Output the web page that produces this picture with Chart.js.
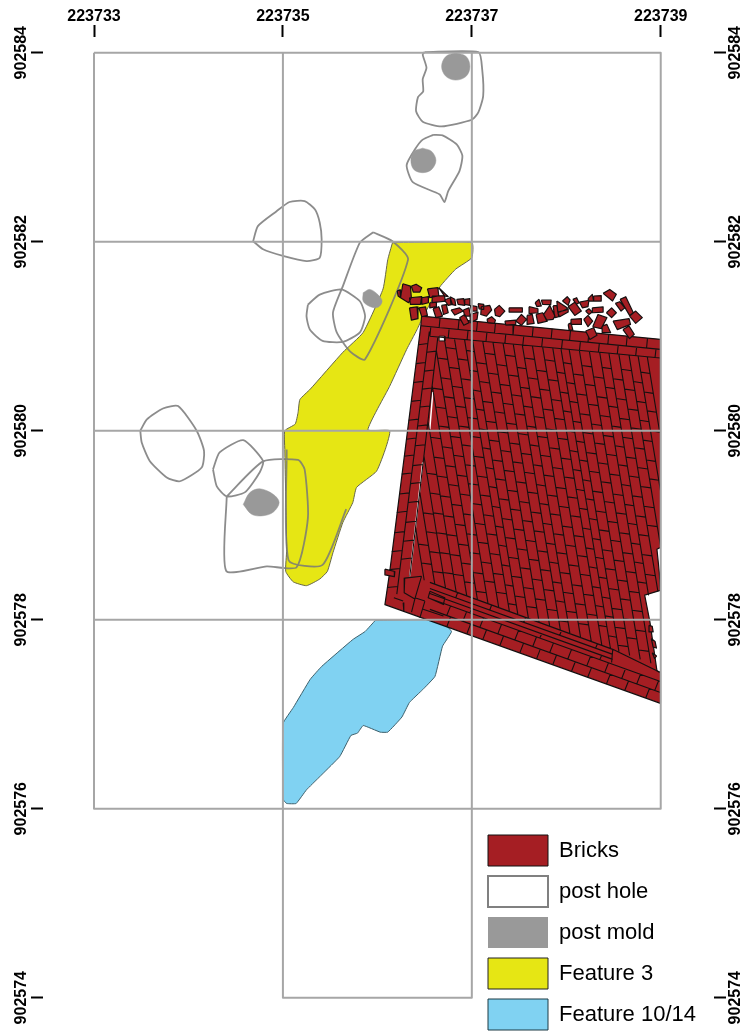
<!DOCTYPE html>
<html>
<head>
<meta charset="utf-8">
<title>Excavation plan</title>
<script src="https://cdn.jsdelivr.net/npm/chart.js@4/dist/chart.umd.min.js"></script>
<style>
  html, body { margin: 0; padding: 0; background: #fff; }
  #wrap { width: 744px; height: 1031px; }
</style>
</head>
<body>
<div id="wrap"><canvas id="plan"></canvas></div>
<script>
// all shapes are in metres east / north of this grid origin
const ORIGIN_E = 223733
const ORIGIN_N = 902574

const eastTicks = [223733, 223735, 223737, 223739]
const northTicks = [902574, 902576, 902578, 902580, 902582, 902584]

const legendNames = ['Bricks', 'post hole', 'post mold', 'Feature 3', 'Feature 10/14']
const legendFills = ['#a51e23', '#ffffff', '#999999', '#e6e614', '#80d2f2']
const legendEdges = ['#111111', '#808080', '#999999', '#222222', '#1d3a44']
const legendWidths = [1, 2, 0, 1, 1]

const gridLines = [
  [0, 10, 6, 10, 6, 2, 0, 2, 0, 10],
  [0, 8, 6, 8],
  [0, 6, 6, 6],
  [0, 4, 6, 4],
  [2, 10, 2, 0, 4, 0, 4, 10]
]

const feature3 = [
  3.16, 7.99, 4.00, 7.99, 4.00, 7.83, 3.83, 7.71, 3.66, 7.52, 3.48, 7.20, 3.42, 7.07, 3.31, 6.86,
  3.13, 6.47, 2.90, 6.01, 3.13, 6.00, 3.09, 5.82, 2.99, 5.57, 2.78, 5.40, 2.74, 5.24, 2.635, 5.03,
  2.53, 4.71, 2.47, 4.51, 2.39, 4.43, 2.25, 4.36, 2.11, 4.40, 2.03, 4.51, 2.04, 4.74, 2.02, 5.80,
  2.02, 6.00, 2.13, 6.07, 2.16, 6.19, 2.18, 6.33, 2.29, 6.44, 2.635, 6.83, 2.85, 7.04, 3.06, 7.50,
  3.11, 7.81
]

const feature1014 = [
  2.98, 3.995, 3.66, 3.995, 3.785, 3.875, 3.69, 3.72, 3.61, 3.40, 3.48, 3.26, 3.34, 3.125, 3.26, 2.97, 3.11, 2.81,
  3.03, 2.81, 2.85, 2.88, 2.79, 2.80, 2.72, 2.775, 2.60, 2.55, 2.25, 2.20, 2.14, 2.055, 2.04, 2.055,
  2.00, 2.10, 2.00, 2.90, 2.11, 3.07, 2.29, 3.37, 2.41, 3.505, 2.74, 3.79, 2.87, 3.875
]

const postHoles = [
  [3.50, 10.006, 4.07, 10.006, 4.11, 9.82, 4.12, 9.54, 4.07, 9.37, 4.00, 9.29, 3.68, 9.22, 3.48, 9.27, 3.41, 9.38, 3.43, 9.53, 3.485, 9.59, 3.48, 9.72, 3.52, 9.84, 3.48, 9.98],
  [3.59, 9.13, 3.69, 9.125, 3.84, 9.03, 3.90, 8.91, 3.87, 8.75, 3.75, 8.535, 3.71, 8.42, 3.66, 8.50, 3.375, 8.63, 3.31, 8.81, 3.40, 8.98, 3.48, 9.08],
  [1.685, 8.005, 1.735, 8.165, 1.93, 8.32, 2.07, 8.42, 2.23, 8.43, 2.34, 8.34, 2.39, 8.20, 2.41, 8.025, 2.39, 7.83, 2.25, 7.795, 2.00, 7.85, 1.79, 7.92],
  [2.955, 8.10, 3.16, 8.005, 3.325, 7.81, 2.87, 6.755, 2.71, 6.84, 2.57, 7.04, 2.53, 7.25, 2.635, 7.53, 2.815, 7.99],
  [2.265, 7.335, 2.39, 7.44, 2.62, 7.495, 2.815, 7.37, 2.87, 7.21, 2.815, 7.04, 2.635, 6.94, 2.42, 6.95, 2.285, 7.07, 2.25, 7.21],
  [0.49, 6.00, 0.56, 6.12, 0.73, 6.235, 0.89, 6.26, 1.087, 6.00, 1.165, 5.785, 1.14, 5.61, 0.91, 5.465, 0.77, 5.505, 0.59, 5.68, 0.505, 5.875],
  [1.26, 5.59, 1.33, 5.77, 1.58, 5.90, 1.79, 5.68, 1.755, 5.56, 1.60, 5.35, 1.405, 5.305, 1.30, 5.41],
  [1.405, 5.305, 1.40, 4.515, 1.83, 4.565, 2.145, 4.555, 2.265, 5.08, 2.23, 5.59, 2.16, 5.69, 1.79, 5.675]
]
const postHoleOpen = [2.04, 5.80, 2.06, 4.63, 2.42, 4.58, 2.67, 5.17]

const postMolds = [
  [3.83, 10.0, 3.94, 9.96, 3.98, 9.855, 3.94, 9.75, 3.83, 9.71, 3.725, 9.75, 3.68, 9.855, 3.725, 9.96],
  [3.48, 8.99, 3.575, 8.955, 3.62, 8.86, 3.575, 8.765, 3.48, 8.73, 3.385, 8.765, 3.355, 8.86, 3.385, 8.955],
  [2.85, 7.46, 2.92, 7.495, 3.005, 7.44, 3.05, 7.37, 3.005, 7.305, 2.92, 7.315, 2.85, 7.37],
  [1.58, 5.22, 1.65, 5.345, 1.755, 5.385, 1.90, 5.325, 1.96, 5.24, 1.90, 5.14, 1.79, 5.10, 1.67, 5.115]
]

const brickBody = [
  3.468, 7.213, 5.997, 6.967, 5.997, 4.765, 5.96, 4.745, 5.985, 4.50, 5.995, 4.31, 5.83, 4.26, 5.885, 3.98,
  5.96, 3.46, 5.997, 3.44, 5.997, 3.115, 3.08, 4.16, 3.13, 4.50, 3.46, 7.11
]
const brickGaps = [
  [3.654, 7.0, 3.714, 7.0, 3.714, 6.95, 3.66, 6.95]
]
const brickCracks = [
  [3.587, 6.41, 3.555, 6.015],
  [3.48, 5.665, 3.44, 5.305, 3.397, 4.925, 3.344, 4.46]
]

const rubble = [
  [3.21, 7.48, 3.24, 7.49, 3.245, 7.407, 3.22, 7.425],
  [3.27, 7.555, 3.35, 7.53, 3.36, 7.407, 3.33, 7.354, 3.245, 7.407],
  [3.36, 7.53, 3.41, 7.55, 3.47, 7.513, 3.45, 7.467, 3.38, 7.467],
  [3.34, 7.407, 3.47, 7.418, 3.456, 7.337, 3.35, 7.337],
  [3.47, 7.407, 3.54, 7.418, 3.54, 7.354, 3.47, 7.337],
  [3.53, 7.50, 3.64, 7.513, 3.65, 7.43, 3.555, 7.407],
  [3.58, 7.425, 3.71, 7.43, 3.72, 7.372, 3.58, 7.354],
  [3.65, 7.513, 3.75, 7.418, 3.71, 7.425],
  [3.555, 7.354, 3.625, 7.36, 3.625, 7.312, 3.555, 7.30],
  [3.34, 7.30, 3.42, 7.31, 3.43, 7.185, 3.36, 7.17],
  [3.44, 7.30, 3.51, 7.31, 3.53, 7.22, 3.47, 7.206],
  [3.59, 7.29, 3.65, 7.312, 3.69, 7.213, 3.62, 7.196],
  [3.68, 7.326, 3.73, 7.333, 3.75, 7.248, 3.70, 7.23],
  [3.71, 7.383, 3.77, 7.407, 3.795, 7.337, 3.75, 7.326],
  [3.77, 7.418, 3.82, 7.39, 3.83, 7.326, 3.78, 7.337],
  [3.78, 7.277, 3.87, 7.30, 3.91, 7.266, 3.82, 7.224],
  [3.84, 7.39, 3.915, 7.397, 3.925, 7.326, 3.855, 7.337],
  [3.925, 7.39, 3.98, 7.397, 3.98, 7.326, 3.925, 7.337],
  [3.91, 7.277, 3.97, 7.30, 3.985, 7.213, 3.925, 7.213],
  [3.87, 7.196, 3.925, 7.23, 3.97, 7.143, 3.915, 7.115],
  [3.985, 7.326, 4.055, 7.312, 4.055, 7.266, 3.996, 7.266],
  [4.066, 7.344, 4.126, 7.337, 4.126, 7.284, 4.077, 7.29],
  [3.98, 7.23, 4.066, 7.255, 4.055, 7.178, 3.985, 7.143],
  [4.10, 7.312, 4.19, 7.326, 4.21, 7.277, 4.155, 7.213, 4.095, 7.23],
  [4.24, 7.284, 4.29, 7.326, 4.35, 7.266, 4.296, 7.206, 4.25, 7.22],
  [4.395, 7.30, 4.535, 7.30, 4.535, 7.255, 4.395, 7.255],
  [4.16, 7.178, 4.21, 7.206, 4.25, 7.17, 4.24, 7.136, 4.17, 7.143],
  [4.35, 7.16, 4.465, 7.17, 4.465, 7.125, 4.36, 7.118],
  [4.465, 7.16, 4.525, 7.23, 4.58, 7.178, 4.525, 7.115],
  [4.585, 7.22, 4.64, 7.23, 4.66, 7.136, 4.585, 7.125],
  [4.606, 7.312, 4.70, 7.29, 4.70, 7.248, 4.61, 7.24],
  [4.68, 7.23, 4.75, 7.248, 4.80, 7.16, 4.70, 7.136],
  [4.67, 7.354, 4.71, 7.39, 4.736, 7.32, 4.69, 7.312],
  [4.736, 7.383, 4.84, 7.383, 4.835, 7.333, 4.75, 7.337],
  [4.76, 7.23, 4.825, 7.326, 4.88, 7.213, 4.86, 7.178, 4.79, 7.17],
  [4.86, 7.32, 4.90, 7.326, 4.92, 7.206, 4.88, 7.196],
  [4.90, 7.372, 5.01, 7.30, 5.00, 7.277, 4.91, 7.255],
  [4.91, 7.248, 5.02, 7.29, 5.02, 7.255, 4.93, 7.206],
  [4.96, 7.372, 5.01, 7.418, 5.04, 7.383, 5.02, 7.326],
  [5.02, 7.312, 5.09, 7.36, 5.16, 7.266, 5.09, 7.22],
  [5.07, 7.39, 5.11, 7.407, 5.135, 7.354, 5.11, 7.337],
  [5.14, 7.36, 5.24, 7.38, 5.23, 7.312, 5.17, 7.30],
  [5.205, 7.266, 5.24, 7.29, 5.276, 7.255, 5.24, 7.23],
  [5.23, 7.397, 5.276, 7.443, 5.29, 7.372, 5.24, 7.372],
  [5.29, 7.425, 5.37, 7.43, 5.37, 7.372, 5.29, 7.372],
  [5.276, 7.30, 5.39, 7.31, 5.39, 7.255, 5.28, 7.248],
  [5.39, 7.453, 5.46, 7.495, 5.53, 7.443, 5.49, 7.372],
  [5.05, 7.178, 5.16, 7.185, 5.16, 7.125, 5.05, 7.125],
  [5.02, 7.125, 5.05, 7.143, 5.07, 7.065, 5.03, 7.065],
  [5.185, 7.178, 5.23, 7.22, 5.28, 7.16, 5.23, 7.10],
  [5.28, 7.10, 5.336, 7.23, 5.43, 7.196, 5.37, 7.08],
  [5.425, 7.248, 5.48, 7.30, 5.53, 7.248, 5.48, 7.196],
  [5.52, 7.347, 5.565, 7.365, 5.62, 7.30, 5.58, 7.266],
  [5.57, 7.39, 5.63, 7.418, 5.71, 7.248, 5.67, 7.22],
  [5.495, 7.16, 5.665, 7.185, 5.68, 7.125, 5.54, 7.07],
  [5.67, 7.213, 5.735, 7.266, 5.805, 7.196, 5.735, 7.136],
  [5.60, 7.07, 5.665, 7.107, 5.72, 7.02, 5.67, 6.974],
  [5.38, 7.107, 5.43, 7.125, 5.47, 7.037, 5.38, 7.037],
  [5.205, 7.055, 5.29, 7.09, 5.325, 7.01, 5.25, 6.966],
  [3.08, 4.535, 3.185, 4.51, 3.18, 4.455, 3.08, 4.475],
  [5.876, 3.94, 5.91, 3.93, 5.92, 3.87, 5.885, 3.87],
  [5.90, 3.80, 5.94, 3.77, 5.955, 3.70, 5.92, 3.71],
  [5.91, 3.65, 5.955, 3.615, 5.935, 3.59]
]

// the long brick columns of the floor, top and bottom end of each dividing line
const railTopE = [3.404, 3.448, 3.492, 3.536, 3.58, 3.624, 3.708, 3.816, 3.923, 4.008, 4.116, 4.224, 4.331, 4.439, 4.535, 4.642, 4.75, 4.857, 4.944, 5.031, 5.139, 5.245, 5.354, 5.452, 5.557, 5.665, 5.761, 5.858]
const railTopN = [4.977, 5.355, 5.74, 6.10, 6.48, 6.853, 6.983, 6.973, 6.963, 6.955, 6.945, 6.934, 6.924, 6.913, 6.904, 6.894, 6.884, 6.873, 6.866, 6.857, 6.847, 6.837, 6.826, 6.817, 6.807, 6.797, 6.787, 6.778]
const railBotE = [3.496, 3.608, 3.722, 3.835, 3.947, 4.06, 4.172, 4.285, 4.398, 4.488, 4.60, 4.713, 4.825, 4.938, 5.039, 5.152, 5.265, 5.377, 5.468, 5.558, 5.671, 5.783, 5.896, 5.871, 5.97, 5.997, 5.997, 5.99]
const railBotN = [4.417, 4.376, 4.333, 4.29, 4.25, 4.21, 4.168, 4.128, 4.087, 4.054, 4.012, 3.971, 3.929, 3.889, 3.852, 3.811, 3.769, 3.728, 3.695, 3.662, 3.621, 3.58, 3.539, 4.257, 4.30, 4.786, 5.368, 5.98]

// northing of every cross joint, one list per column
const columnJoints = [
  [4.80, 4.60],
  [5.13, 4.93, 4.72, 4.51],
  [5.55, 5.34, 5.13, 4.92, 4.71, 4.50],
  [5.93, 5.72, 5.52, 5.31, 5.10, 4.90, 4.69, 4.48],
  [6.66, 6.45, 6.25, 6.05, 5.83, 5.63, 5.43, 5.22, 5.01, 4.80, 4.60, 4.40],
  [6.77, 6.56, 6.36, 6.15, 5.94, 5.74, 5.53, 5.33, 5.12, 4.91, 4.71, 4.50, 4.30],
  [6.88, 6.67, 6.47, 6.26, 6.05, 5.85, 5.64, 5.44, 5.23, 5.02, 4.82, 4.61, 4.41],
  [6.76, 6.55, 6.35, 6.14, 5.94, 5.73, 5.52, 5.32, 5.11, 4.91, 4.70, 4.49, 4.29],
  [6.85, 6.64, 6.43, 6.23, 6.02, 5.82, 5.61, 5.41, 5.20, 4.99, 4.79, 4.58, 4.37, 4.17],
  [6.72, 6.52, 6.31, 6.10, 5.90, 5.69, 5.49, 5.28, 5.07, 4.87, 4.66, 4.46, 4.25],
  [6.82, 6.61, 6.41, 6.20, 5.99, 5.79, 5.58, 5.37, 5.17, 4.96, 4.75, 4.55, 4.34, 4.14],
  [6.70, 6.49, 6.29, 6.08, 5.87, 5.67, 5.46, 5.25, 5.05, 4.84, 4.64, 4.43, 4.22],
  [6.80, 6.59, 6.38, 6.18, 5.97, 5.76, 5.56, 5.35, 5.14, 4.94, 4.73, 4.53, 4.32, 4.11],
  [6.67, 6.46, 6.26, 6.05, 5.85, 5.64, 5.43, 5.23, 5.02, 4.81, 4.61, 4.40, 4.20, 3.99],
  [6.77, 6.56, 6.36, 6.15, 5.94, 5.74, 5.53, 5.32, 5.12, 4.91, 4.71, 4.50, 4.29, 4.09],
  [6.64, 6.44, 6.23, 6.02, 5.82, 5.61, 5.40, 5.20, 4.99, 4.79, 4.58, 4.37, 4.17, 3.96],
  [6.75, 6.54, 6.33, 6.13, 5.92, 5.71, 5.51, 5.30, 5.10, 4.89, 4.68, 4.48, 4.27, 4.06],
  [6.62, 6.41, 6.21, 6.00, 5.79, 5.59, 5.38, 5.18, 4.97, 4.76, 4.56, 4.35, 4.15, 3.94],
  [6.72, 6.51, 6.31, 6.10, 5.89, 5.69, 5.48, 5.28, 5.07, 4.86, 4.66, 4.45, 4.24, 4.04, 3.83],
  [6.60, 6.39, 6.18, 5.98, 5.77, 5.57, 5.36, 5.15, 4.95, 4.74, 4.54, 4.33, 4.12, 3.92, 3.73],
  [6.69, 6.49, 6.28, 6.07, 5.87, 5.66, 5.46, 5.25, 5.04, 4.84, 4.63, 4.42, 4.22, 4.01, 3.81],
  [6.57, 6.36, 6.16, 5.95, 5.75, 5.54, 5.33, 5.13, 4.92, 4.71, 4.51, 4.30, 4.10, 3.89, 3.68],
  [6.67, 6.46, 6.26, 6.05, 5.84, 5.64, 5.43, 5.22, 5.02, 4.81, 4.61, 4.40, 4.19, 3.99, 3.78, 3.60],
  [6.55, 6.34, 6.13, 5.93, 5.72, 5.52, 5.31, 5.10, 4.90, 4.69, 4.48, 4.28],
  [6.65, 6.44, 6.23, 6.03, 5.82, 5.61, 5.41, 5.20, 5.00, 4.79, 4.58, 4.38],
  [6.52, 6.31, 6.11, 5.90, 5.69, 5.49, 5.28, 5.08, 4.87],
  [6.62, 6.41, 6.21, 6.00, 5.79, 5.59, 5.38]
]

// west wall: two columns leaning the other way
const westOuter = [3.46, 7.11, 3.08, 4.16]
const westMid = [3.55, 7.05, 3.206, 4.27]
const westInner = [3.64, 6.99, 3.344, 4.46]
const westJointsOuter = [6.91, 6.71, 6.51, 6.31, 6.11, 5.91, 5.73, 5.54, 5.33, 5.135, 4.92, 4.72, 4.53, 4.34]
const westJointsInner = [7.02, 6.83, 6.63, 6.44, 6.25, 6.05, 5.84, 5.63, 5.44, 5.24, 5.03, 4.83, 4.64]

// north wall: two courses
const northTop = [3.468, 7.213, 5.997, 6.967]
const northMid = [3.46, 7.11, 5.997, 6.86]
const northLow = [3.556, 7.0, 5.997, 6.77]
const northJointsUpper = [3.654, 3.855, 4.05, 4.24, 4.436, 4.64, 4.84, 5.035, 5.23, 5.44, 5.635, 5.85]
const northJointsLower = [3.556, 3.75, 3.95, 4.15, 4.35, 4.54, 4.74, 4.95, 5.14, 5.34, 5.54, 5.735, 5.94]

// south wall: courses from the outside in
const southEdge = [3.08, 4.16, 5.997, 3.115]
const southA = [3.556, 4.109, 5.997, 3.23]
const southB = [3.556, 4.225, 5.997, 3.347]
const southC = [3.556, 4.278, 5.492, 3.58]
const southD = [3.556, 4.331, 5.492, 3.633]
const southE = [3.556, 4.395, 5.492, 3.686]
const southEnd = [5.492, 3.686, 5.997, 3.44]
const southCap = [5.492, 3.686, 5.48, 3.547]
const southJointsOuter = [3.735, 3.947, 4.116, 4.296, 4.508, 4.685, 4.857, 5.055, 5.227, 5.425, 5.619, 5.841]
const southJointsSecond = [3.735, 3.905, 4.085, 4.275, 4.455, 4.645, 4.825, 5.016, 5.217, 5.407, 5.587, 5.746, 5.937]
const southJointsThin = [3.98, 4.72, 5.355]
const southJointsTop = [3.83, 4.19, 4.55, 4.93, 5.31]

// odd broken bricks where the west and south walls meet
const cornerLines = [
  [3.29, 4.44, 3.468, 4.46],
  [3.468, 4.46, 3.397, 4.22],
  [3.29, 4.44, 3.284, 4.285, 3.397, 4.22],
  [3.273, 4.18, 3.28, 4.09],
  [3.175, 4.233, 3.273, 4.197],
  [3.397, 4.22, 3.362, 4.08],
  [3.397, 4.233, 3.503, 4.197],
  [3.503, 4.197, 3.45, 4.02],
  [3.556, 4.30, 3.714, 4.233, 3.70, 4.16, 3.538, 4.233, 3.556, 4.30],
  [3.484, 4.11, 3.70, 4.04]
]

const pt = (e, n) => ({ x: ORIGIN_E + e, y: ORIGIN_N + n })
const gap = { x: null, y: null }

function openPath(flat) {
  const out = []
  for (let i = 0; i < flat.length; i += 2) out.push(pt(flat[i], flat[i + 1]))
  return out
}
function closedPath(flat) {
  return openPath(flat.concat([flat[0], flat[1]]))
}
function joinPaths(paths) {
  const out = []
  paths.forEach(p => { out.push(...p, gap) })
  return out
}

function atNorth(r, n) {
  const t = (n - r[1]) / (r[3] - r[1])
  return t < 0 || t > 1 ? null : [r[0] + (r[2] - r[0]) * t, n]
}
function atEast(r, e) {
  const t = (e - r[0]) / (r[2] - r[0])
  return [e, r[1] + (r[3] - r[1]) * t]
}
// cross joints between two lines, the list gives where each one sits
function northJoints(left, right, list, skew) {
  const out = []
  list.forEach(n => {
    const a = atNorth(left, n), b = atNorth(right, n - skew)
    if (a && b) out.push([...a, ...b])
  })
  return out
}
function eastJoints(upper, lower, list, skew) {
  return list.map(e => [...atEast(upper, e + skew), ...atEast(lower, e)])
}

const floorRails = railTopE.map((e, i) => [e, railTopN[i], railBotE[i], railBotN[i]])

const brickLines = [
  ...floorRails,
  ...columnJoints.flatMap((list, i) => northJoints(floorRails[i], floorRails[i + 1], list, 0.015)),
  westMid, westInner,
  ...northJoints(westOuter, westMid, westJointsOuter, -0.012),
  ...northJoints(westMid, westInner, westJointsInner, -0.012),
  northMid, northLow,
  ...eastJoints(northTop, northMid, northJointsUpper, 0.01),
  ...eastJoints(northMid, northLow, northJointsLower, 0.01),
  southA, southB, southC, southD, southE, southEnd, southCap,
  ...eastJoints(southA, southEdge, southJointsOuter, 0.04),
  ...eastJoints(southB, southA, southJointsSecond, 0.04),
  ...eastJoints(southC, southB, southJointsThin, 0.02),
  ...eastJoints(southE, southD, southJointsTop, 0.02),
  ...cornerLines
]

function lineSet(label, data, color, width, tension = 0) {
  return { label, data, showLine: true, pointRadius: 0, borderColor: color, borderWidth: width, fill: false, spanGaps: false, borderJoinStyle: 'round', tension }
}
function shapeSet(label, data, fillColor, color, width, tension = 0) {
  return { ...lineSet(label, data, color, width, tension), fill: 'shape', backgroundColor: fillColor }
}

// first dataset ends up on top
const datasets = [
  lineSet('grid', joinPaths(gridLines.map(openPath)), '#a6a6a6', 2),
  shapeSet('rubble', joinPaths(rubble.map(closedPath)), legendFills[0], '#141010', 1.2),
  lineSet('joints', joinPaths(brickLines.map(openPath)), '#141010', 1.1),
  shapeSet('gaps', joinPaths(brickGaps.map(closedPath)), '#ffffff', '#141010', 1),
  lineSet('cracks', joinPaths(brickCracks.map(openPath)), '#ffffff', 1.5),
  shapeSet('Bricks', closedPath(brickBody), legendFills[0], '#141010', 1.2),
  shapeSet('post mold', joinPaths(postMolds.map(closedPath)), legendFills[2], legendFills[2], 0.5, 0.35),
  lineSet('post hole', joinPaths([...postHoles.map(closedPath), openPath(postHoleOpen)]), 'rgba(120,120,120,0.85)', 1.8, 0.2),
  shapeSet('Feature 10/14', closedPath(feature1014), legendFills[4], '#3c5f6b', 1, 0.1),
  shapeSet('Feature 3', closedPath(feature3), legendFills[3], '#66664a', 1, 0.15)
]

const tickFont = { family: '"Liberation Sans", Arial, sans-serif', size: 16, weight: 'bold' }
const asText = v => String(v)

function axisTicks(list) {
  return scale => { scale.ticks = list.map(value => ({ value })) }
}
const tickMarks = { display: true, drawOnChartArea: false, drawTicks: true, tickLength: 12, tickWidth: 2, tickColor: '#000' }

const yLimits = { min: 902573.711, max: 902584.166 }

// legend sits in the blank corner lower right
const placeLegend = {
  id: 'placeLegend',
  beforeDraw(chart) {
    chart.legend.left = 478
    chart.legend.top = 825
    chart.legend.right = 744
    chart.legend.bottom = 1060
  }
}

new Chart(document.getElementById('plan'), {
  type: 'scatter',
  data: { datasets },
  plugins: [placeLegend],
  options: {
    responsive: true,
    maintainAspectRatio: false,
    animation: false,
    events: [],
    layout: { padding: { bottom: 6 } },
    scales: {
      x: {
        type: 'linear', position: 'top', min: 223732.46, max: 223739.564,
        afterBuildTicks: axisTicks(eastTicks),
        afterFit(scale) { scale.height = 37 },
        grid: tickMarks, border: { display: false },
        ticks: { autoSkip: false, callback: asText, font: tickFont, color: '#000', padding: -1, maxRotation: 0 }
      },
      y: {
        type: 'linear', position: 'left', ...yLimits,
        afterBuildTicks: axisTicks(northTicks),
        afterFit(scale) { scale.width = 43 },
        grid: tickMarks, border: { display: false },
        ticks: { autoSkip: false, callback: asText, font: tickFont, color: '#000', minRotation: 90, maxRotation: 90, crossAlign: 'center', padding: -17 }
      },
      y2: {
        type: 'linear', position: 'right', ...yLimits,
        afterBuildTicks: axisTicks(northTicks),
        afterFit(scale) { scale.width = 30 },
        grid: tickMarks, border: { display: false },
        ticks: { autoSkip: false, callback: asText, font: tickFont, color: '#000', minRotation: 90, maxRotation: 90, crossAlign: 'center', padding: -17.5 }
      }
    },
    plugins: {
      tooltip: { enabled: false },
      legend: {
        position: 'chartArea',
        align: 'start',
        labels: {
          boxWidth: 60,
          boxHeight: 31,
          padding: 10,
          color: '#111',
          font: { family: '"Liberation Sans", Arial, sans-serif', size: 22 },
          generateLabels: () => legendNames.map((text, i) => ({
            text, fillStyle: legendFills[i], strokeStyle: legendEdges[i], lineWidth: legendWidths[i], hidden: false
          }))
        }
      }
    }
  }
})
</script>
</body>
</html>
